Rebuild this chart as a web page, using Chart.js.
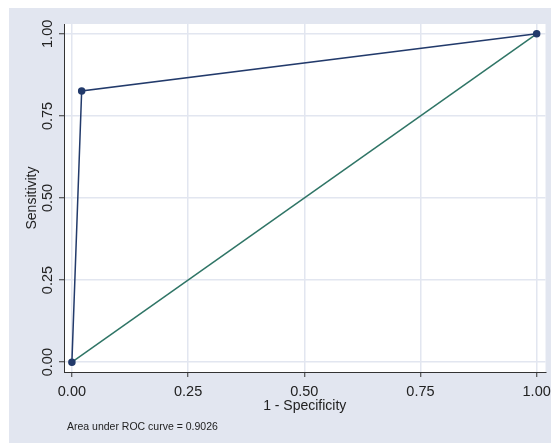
<!DOCTYPE html>
<html lang="en">
<head>
    <meta charset="UTF-8">
    <title>ROC curve</title>
    <script src="https://cdn.jsdelivr.net/npm/chart.js"></script>
    <style>
        body {
            margin: 0;
            background-color: #fff;
        }
        .chart-container {
            position: absolute;
            left: 9px;
            top: 8px;
            width: 542px;
            height: 435px;
            background-color: #E2E6F0;
        }
    </style>
</head>
<body>
    <div class="chart-container">
        <canvas id="rocChart"></canvas>
    </div>
    <script>
        // ROC points (1 - specificity, sensitivity)
        const fpr = [0, 0.021, 1];
        const tpr = [0, 0.826, 1];
        // reference (chance) line
        const refX = [0, 1];
        const refY = [0, 1];
        const tickValues = [0, 0.25, 0.5, 0.75, 1];
        const aucNote = 'Area under ROC curve = 0.9026';

        const gridColor = '#E2E6F0';
        const axisColor = '#333';
        const fontFamily = '"Liberation Sans", Arial, sans-serif';

        // white plot region + the AUC note under the axis
        const plotDecor = {
            id: 'plotDecor',
            beforeDraw(chart) {
                const a = chart.chartArea;
                const ctx = chart.ctx;
                ctx.save();
                ctx.fillStyle = '#fff';
                ctx.fillRect(a.left, a.top, a.right - a.left, a.bottom - a.top);
                ctx.restore();
            },
            afterDraw(chart) {
                const ctx = chart.ctx;
                ctx.save();
                ctx.fillStyle = '#222';
                ctx.font = '10.5px ' + fontFamily;
                ctx.textBaseline = 'middle';
                ctx.fillText(aucNote, 58, 419);
                ctx.restore();
            }
        };

        const setTicks = scale => {
            scale.ticks = tickValues.map(v => ({ value: v }));
        };

        new Chart(document.getElementById('rocChart'), {
            type: 'scatter',
            data: {
                datasets: [
                    {
                        data: fpr.map((x, i) => ({ x: x, y: tpr[i] })),
                        showLine: true,
                        borderColor: '#223A6B',
                        backgroundColor: '#223A6B',
                        borderWidth: 1.5,
                        pointRadius: 3,
                        order: 1
                    },
                    {
                        data: refX.map((x, i) => ({ x: x, y: refY[i] })),
                        showLine: true,
                        borderColor: '#2F7566',
                        borderWidth: 1.5,
                        pointRadius: 0,
                        order: 2
                    }
                ]
            },
            options: {
                responsive: true,
                maintainAspectRatio: false,
                animation: false,
                clip: false,
                layout: { padding: { top: 16, right: 4, left: 0, bottom: 0 } },
                plugins: {
                    legend: { display: false },
                    tooltip: { enabled: false }
                },
                scales: {
                    x: {
                        type: 'linear',
                        min: -0.017,
                        max: 1.019,
                        afterBuildTicks: setTicks,
                        afterFit: scale => {
                            scale.height = 71;
                            scale.paddingLeft = 0;
                            scale.paddingRight = 0;
                        },
                        border: { display: true, color: axisColor, width: 1 },
                        grid: {
                            color: gridColor,
                            lineWidth: 1.5,
                            tickColor: axisColor,
                            tickLength: 5,
                            tickWidth: 1
                        },
                        ticks: {
                            color: '#222',
                            font: { family: fontFamily, size: 14.5 },
                            padding: 6,
                            maxRotation: 0,
                            callback: v => v.toFixed(2)
                        },
                        title: {
                            display: true,
                            text: '1 - Specificity',
                            color: '#222',
                            font: { family: fontFamily, size: 14 },
                            padding: { top: 0, bottom: 28 }
                        }
                    },
                    y: {
                        type: 'linear',
                        min: -0.03,
                        max: 1.03,
                        afterBuildTicks: setTicks,
                        afterFit: scale => {
                            scale.width = 55;
                            scale.paddingTop = 0;
                            scale.paddingBottom = 0;
                        },
                        border: { display: true, color: axisColor, width: 1 },
                        grid: {
                            color: gridColor,
                            lineWidth: 1.5,
                            tickColor: axisColor,
                            tickLength: 5,
                            tickWidth: 1
                        },
                        ticks: {
                            color: '#222',
                            font: { family: fontFamily, size: 14.5 },
                            padding: -3,
                            minRotation: 90,
                            maxRotation: 90,
                            crossAlign: 'center',
                            callback: v => v.toFixed(2)
                        },
                        title: {
                            display: true,
                            text: 'Sensitivity',
                            color: '#222',
                            font: { family: fontFamily, size: 14 },
                            padding: { top: 14.8, bottom: 0 }
                        }
                    }
                }
            },
            plugins: [plotDecor]
        });
    </script>
</body>
</html>
